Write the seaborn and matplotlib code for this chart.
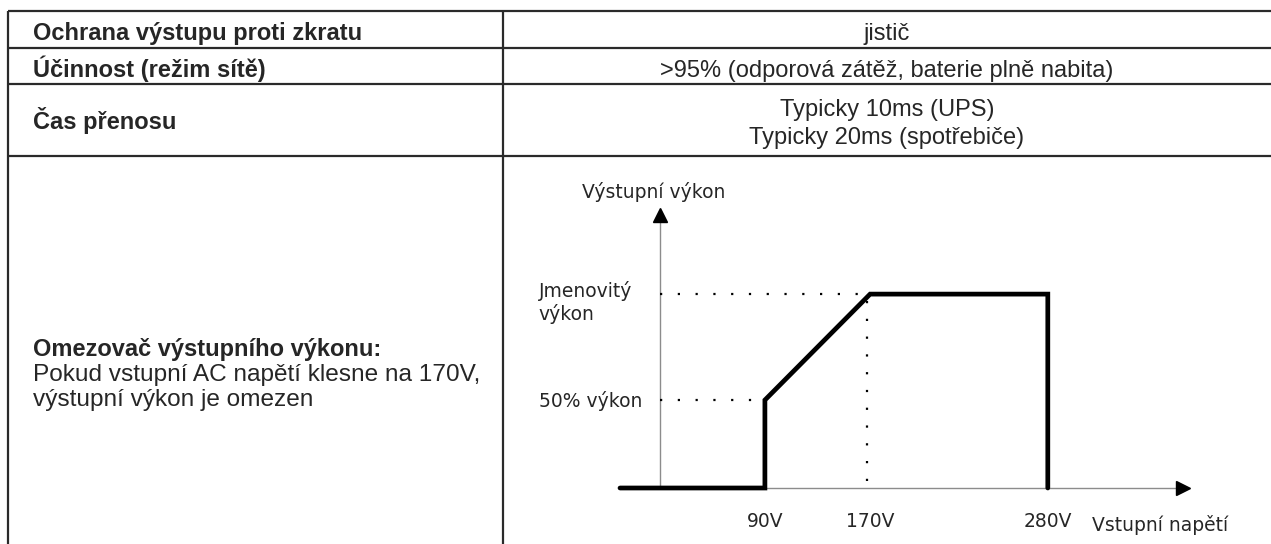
import numpy as np
import matplotlib
matplotlib.use("Agg")
import matplotlib.pyplot as plt
import matplotlib.transforms as mtransforms
import seaborn as sns

# table content
row_labels = ["Ochrana výstupu proti zkratu", "Účinnost (režim sítě)", "Čas přenosu"]
row_values = [["jistič"],
              [">95% (odporová zátěž, baterie plně nabita)"],
              ["Typicky 10ms (UPS)", "Typicky 20ms (spotřebiče)"]]
limiter_title = "Omezovač výstupního výkonu:"
limiter_text = ["Pokud vstupní AC napětí klesne na 170V,", "výstupní výkon je omezen"]

# power limiter curve
input_voltage = [0, 90, 90, 170, 280, 280]
output_power = [0, 0, 50, 100, 100, 0]
voltage_ticks = [90, 170, 280]
voltage_labels = ["90V", "170V", "280V"]
power_marks = [50, 100]
power_labels = ["50% výkon", "Jmenovitý\nvýkon"]
y_title = "Výstupní výkon"
x_title = "Vstupní napětí"

sns.set_theme(style="white")
plt.rcParams["font.family"] = ["Liberation Sans", "DejaVu Sans"]

W, H = 1271, 544
fig = plt.figure(figsize=(W / 100, H / 100), dpi=100)

# table grid in pixel units
tab = fig.add_axes([0, 0, 1, 1])
tab.set_xlim(0, W)
tab.set_ylim(H, 0)
tab.axis("off")
line_kw = dict(color="#2a2a2a", lw=1.6)
tab.hlines([11, 48, 84, 156], 7.5, W, **line_kw)
tab.vlines([7.5, 503], 11, H, **line_kw)

fs = 17
label_base = [40, 77, 129]
for lab, yy in zip(row_labels, label_base):
    tab.text(33, yy, lab, fontsize=fs, fontweight="bold", va="baseline", ha="left")
value_base = [[40], [77], [116, 144]]
for vals, ys in zip(row_values, value_base):
    for v, yy in zip(vals, ys):
        tab.text(887, yy, v, fontsize=fs, va="baseline", ha="center")
tab.text(33, 356, limiter_title, fontsize=fs, fontweight="bold", va="baseline")
for i, t in enumerate(limiter_text):
    tab.text(33, 381 + 25 * i, t, fontsize=17.6, va="baseline")

# chart: schematic, piecewise axis scales
v_anch, x_frac = [0, 90, 170, 280, 340], [0, 0.252, 0.435, 0.744, 1.0]
p_anch, y_frac = [0, 50, 100, 150], [0, 0.313, 0.690, 1.0]
fx = lambda v: np.interp(v, v_anch, x_frac)
ix = lambda u: np.interp(u, x_frac, v_anch)
fy = lambda p: np.interp(p, p_anch, y_frac)
iy = lambda u: np.interp(u, y_frac, p_anch)

ax = fig.add_axes([620 / W, (H - 488) / H, 575 / W, 281 / H])
ax.set_facecolor("none")
sns.lineplot(x=input_voltage, y=output_power, sort=False, estimator=None,
             color="black", lw=3.4, ax=ax, clip_on=False,
             solid_joinstyle="miter", solid_capstyle="round", zorder=5)
ax.set_xscale("function", functions=(fx, ix))
ax.set_yscale("function", functions=(fy, iy))
ax.set_xlim(0, 340)
ax.set_ylim(0, 150)
for s in ax.spines.values():
    s.set_visible(False)

axis_x = 0.0696
ax.plot([axis_x, axis_x], [0, 0.96], color="#8c8c8c", lw=1, transform=ax.transAxes, clip_on=False)
ax.plot([axis_x, 0.975], [0, 0], color="#8c8c8c", lw=1, transform=ax.transAxes, clip_on=False)
ax.plot([axis_x], [0.973], marker="^", ms=10, color="black", transform=ax.transAxes, clip_on=False)
ax.plot([0.979], [0], marker=">", ms=10, color="black", transform=ax.transAxes, clip_on=False)

# dotted guides
v0 = float(ix(axis_x))
dot = dict(color="black", lw=1.6, linestyles=(0, (1, 7)))
ax.hlines(power_marks[1], v0, voltage_ticks[1] - 3, **dot)
ax.hlines(power_marks[0], v0, voltage_ticks[0] - 5, **dot)
ax.vlines(voltage_ticks[1] - 2, 4, power_marks[1] - 3, **dot)

cfont = dict(family="DejaVu Sans", fontsize=13.5)
ax.set_xticks(voltage_ticks)
ax.set_xticklabels(voltage_labels, **cfont)
ax.tick_params(axis="x", length=0, pad=17)
ax.set_yticks([])
ax.minorticks_off()

bt = mtransforms.blended_transform_factory(ax.transAxes, ax.transData)
ax.text(-0.141, power_marks[0], power_labels[0],
        transform=mtransforms.offset_copy(bt, fig=fig, y=-1, units="dots"),
        va="center", ha="left", **cfont)
ax.text(-0.141, power_marks[1], power_labels[1],
        transform=mtransforms.offset_copy(bt, fig=fig, y=-8, units="dots"),
        va="center", ha="left", **cfont)
ax.text(-0.066, 1.053, y_title, transform=ax.transAxes, va="center", ha="left", **cfont)
ax.text(0.821, -0.13, x_title, transform=ax.transAxes, va="center", ha="left", **cfont)

fig.savefig("out.png", dpi=100)
